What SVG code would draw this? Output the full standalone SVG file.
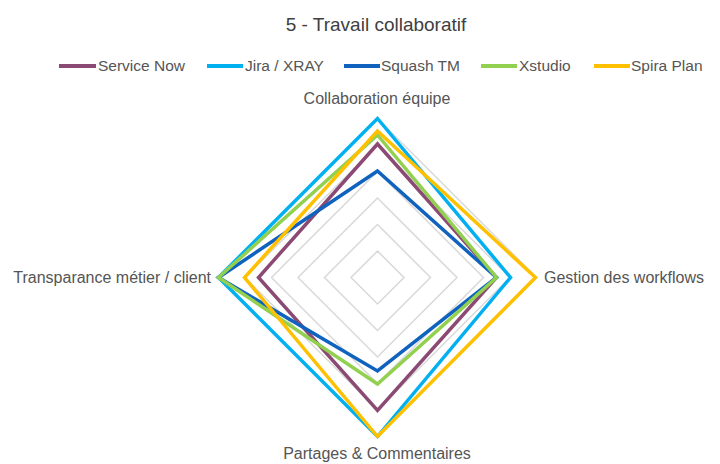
<svg xmlns="http://www.w3.org/2000/svg" width="720" height="464" viewBox="0 0 720 464">
<style>
text{font-family:"Liberation Sans",Arial,sans-serif;}
.title{font-size:19px;fill:#404040;}
.lbl{font-size:16px;fill:#555555;}
.leg-t{font-size:15.5px;fill:#555555;}
.grid{fill:none;stroke:#D9D9D9;stroke-width:1.5;}
.s{fill:none;stroke-width:3.5;stroke-linejoin:miter;}
.leg{stroke-width:4;}
.sn{stroke:#8B4A74;}
.ji{stroke:#00B0F0;}
.sq{stroke:#0F62BE;}
.xs{stroke:#92D050;}
.sp{stroke:#FFC000;}
</style>
<rect width="720" height="464" fill="#FFFFFF"/>
<text class="title" x="376" y="31" text-anchor="middle">5 - Travail collaboratif</text>
<g id="legend">
<line class="leg sn" x1="59" y1="66" x2="96" y2="66"/><text class="leg-t" x="98" y="71">Service Now</text>
<line class="leg ji" x1="207" y1="66" x2="243" y2="66"/><text class="leg-t" x="245" y="71">Jira / XRAY</text>
<line class="leg sq" x1="344" y1="66" x2="380" y2="66"/><text class="leg-t" x="381" y="71">Squash TM</text>
<line class="leg xs" x1="481" y1="66" x2="517" y2="66"/><text class="leg-t" x="519" y="71">Xstudio</text>
<line class="leg sp" x1="594" y1="66" x2="630" y2="66"/><text class="leg-t" x="631" y="71">Spira Plan</text>
</g>
<g id="grid">
<polygon class="grid" points="377.5,251 404,277.5 377.5,304 351,277.5"/>
<polygon class="grid" points="377.5,224.5 430.5,277.5 377.5,330.5 324.5,277.5"/>
<polygon class="grid" points="377.5,198 457,277.5 377.5,357 298,277.5"/>
<polygon class="grid" points="377.5,171.5 483.5,277.5 377.5,383.5 271.5,277.5"/>
<polygon class="grid" points="377.5,145 510,277.5 377.5,410 245,277.5"/>
<polygon class="grid" points="377.5,118.5 536.5,277.5 377.5,436.5 218.5,277.5"/>
</g>
<g id="axis-labels">
<text id="ax-top" class="lbl" x="377" y="104" text-anchor="middle">Collaboration équipe</text>
<text id="ax-right" class="lbl" x="544" y="283">Gestion des workflows</text>
<text id="ax-bottom" class="lbl" x="377" y="459" text-anchor="middle">Partages &amp; Commentaires</text>
<text id="ax-left" class="lbl" x="211" y="283" text-anchor="end">Transparance métier / client</text>
</g>
<g id="series">
<polygon id="service-now" class="s sn" points="377.5,144 496.5,277.5 377.5,410.5 258.5,277.5"/>
<polygon id="jira-xray" class="s ji" points="377.5,118.5 510.5,277.5 377.5,436.5 218.5,277.5"/>
<polygon id="squash-tm" class="s sq" points="377.5,171 496.5,277.5 377.5,371 218.5,277.5"/>
<polygon id="xstudio" class="s xs" points="377.5,135 496.5,277.5 377.5,384 218.5,277.5"/>
<polygon id="spira-plan" class="s sp" points="377.5,131 535.5,277.5 377.5,436.5 244.5,277.5"/>
</g>
</svg>
